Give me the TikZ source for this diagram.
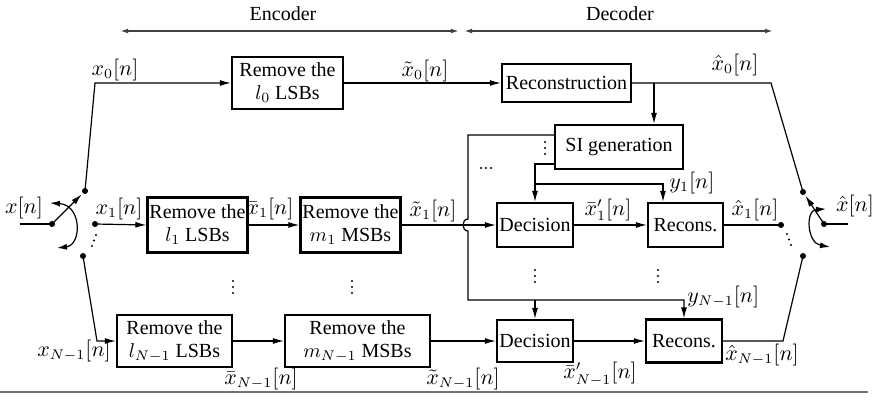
\documentclass[tikz,border=0pt]{standalone}
\usepackage{fontspec}
\setmainfont{Liberation Serif}
\usetikzlibrary{arrows.meta,calc}
\begin{document}
\begin{tikzpicture}[x=0.5pt,y=-0.5pt]
\tikzset{
 blk/.style={draw, line width=1.1pt, align=center, inner sep=1pt, font=\fontsize{10}{11.5}\selectfont},
 conn/.style={line width=0.6pt},
 arr/.style={conn, -{Latex[length=5.5pt,width=3pt]}},
 dbl/.style={conn, {Latex[length=5pt,width=3pt]}-{Latex[length=5pt,width=3pt]}},
 hdr/.style={line width=0.9pt, draw=black!75, {Latex[length=4pt,width=2.4pt]}-{Latex[length=4pt,width=2.4pt]}},
 cdot/.style={circle, fill, inner sep=0pt, minimum size=3pt},
 lbl/.style={font=\fontsize{10.5}{12}\selectfont, inner sep=0pt},
 txt/.style={font=\fontsize{10}{12}\selectfont, inner sep=0pt}
}
\newcommand{\smalldot}[1]{\fill #1 circle[radius=1.1];}
\useasboundingbox (0,0) rectangle (872,401);

% header
\node[txt] (enc) at (283,14) {Encoder};
\node[txt] (dec) at (620,14) {Decoder};
\coordinate (e0) at (120,31); \coordinate (e1) at (459,31);
\coordinate (d0) at (464,31); \coordinate (d1) at (773,31);
\draw[hdr] (e0) -- (e1);
\draw[hdr] (d0) -- (d1);

% blocks
\node[blk, minimum width=55.5pt, minimum height=26pt] (l0) at (287.5,83) {Remove the\\ $l_0$ LSBs};
\node[blk, minimum width=64.5pt, minimum height=19pt] (rec) at (566.5,83) {Reconstruction};
\node[blk, minimum width=64pt, minimum height=22pt] (si) at (619,147) {SI generation};
\node[blk, minimum width=49.5pt, minimum height=27.5pt] (l1) at (197.5,225) {Remove the\\ $l_1$ LSBs};
\node[blk, minimum width=49.5pt, minimum height=27.5pt] (m1) at (350.5,225) {Remove the\\ $m_1$ MSBs};
\node[blk, minimum width=38pt, minimum height=22pt] (dec1) at (535,225) {Decision};
\node[blk, minimum width=37.5pt, minimum height=22pt] (rec1) at (685.5,225) {Recons.};
\node[blk, minimum width=57.5pt, minimum height=26pt] (lN) at (174.5,341) {Remove the\\ $l_{N-1}$ LSBs};
\node[blk, minimum width=72.5pt, minimum height=26pt] (mN) at (357.5,341) {Remove the\\ $m_{N-1}$ MSBs};
\node[blk, minimum width=38pt, minimum height=21pt] (decN) at (535,341) {Decision};
\node[blk, minimum width=38pt, minimum height=21.5pt] (recN) at (684,341) {Recons.};

% switch contacts
\node[cdot] (P) at (52,224) {};
\node[cdot] (T0) at (85,191) {};
\node[cdot] (C1) at (95,224) {};
\node[cdot] (TN) at (83,256) {};
\node[cdot] (Q) at (824,224) {};
\node[cdot] (T0r) at (803,192) {};
\node[cdot] (D1) at (781,225) {};
\node[cdot] (TNr) at (803,256) {};

% left switch
\coordinate (xin) at (20,224);
\draw[conn] (xin) -- (P.center);
\draw[arr] (P.center) -- ($(P)!0.9!(T0)$);
\coordinate (la) at (50,203); \coordinate (lb) at (57,248);
\draw[dbl] (la) .. controls (82,205) and (82,245) .. (lb);
\smalldot{(96,235)} \smalldot{(94,240.5)} \smalldot{(92,246)}

% right switch
\coordinate (xout) at (848,224);
\draw[conn] (Q.center) -- (xout);
\draw[arr] (Q.center) -- ($(Q)!0.88!(T0r)$);
\coordinate (ra) at (826,209); \coordinate (rb) at (830,247);
\draw[dbl] (ra) .. controls (805,210) and (807,243) .. (rb);
\smalldot{(787,234)} \smalldot{(789,239.5)} \smalldot{(791,245)}

% row 0
\coordinate (c0) at (95,83);
\draw[arr] (T0.center) -- (c0) -- (l0.west);
\draw[arr] (l0.east) -- (rec.west);
\coordinate (r0) at (771,83);
\draw[conn] (rec.east) -- (r0) -- (T0r.center);
\coordinate (br0) at (654,83);
\draw[arr] (br0) -- (br0 |- si.north);

% SI generation outputs
\coordinate (v0) at (468,135); \coordinate (v1) at (468,219);
\coordinate (v2) at (468,231); \coordinate (v3) at (468,300);
\coordinate (v4) at (684,300);
\draw[arr] ([yshift=6pt]si.west) -- (v0) -- (v1) .. controls (461.3,219) and (461.3,231) .. (v2) -- (v3) -- (v4) -- (v4 |- recN.north);
\draw[arr] (v3 -| decN.north) -- (decN.north);
\coordinate (w0) at (535,164);
\draw[arr] ([yshift=-8.5pt]si.west) -- (w0) -- (dec1.north);
\coordinate (w1) at (535,184); \coordinate (w2) at (663,184);
\draw[arr] (w1) -- (w2) -- (w2 |- rec1.north);

% row 1
\draw[arr] (C1.center) -- (l1.west);
\draw[arr] (l1.east) -- (m1.west);
\draw[arr] (m1.east) -- (dec1.west);
\draw[arr] (dec1.east) -- (rec1.west);
\draw[conn] (rec1.east) -- (D1.center);

% row N
\coordinate (cN) at (97,341);
\draw[arr] (TN.center) -- (cN) -- (lN.west);
\draw[arr] (lN.east) -- (mN.west);
\draw[arr] (mN.east) -- (decN.west);
\draw[arr] (decN.east) -- (recN.west);
\coordinate (rN) at (783,341);
\draw[conn] (recN.east) -- (rN) -- (TNr.center);

% labels
\node[lbl] (lx) at (24,208) {$x[n]$};
\node[lbl] (lxh) at (855,206) {$\hat{x}[n]$};
\node[lbl] (lx0) at (115,70) {$x_0[n]$};
\node[lbl] (lxt0) at (425,71) {$\tilde{x}_0[n]$};
\node[lbl] (lxh0) at (735,65) {$\hat{x}_0[n]$};
\node[lbl] (lx1) at (119,209) {$x_1[n]$};
\node[lbl] (lxb1) at (270,209) {$\bar{x}_1[n]$};
\node[lbl] (lxt1) at (433,211) {$\tilde{x}_1[n]$};
\node[lbl] (lxp1) at (608,210) {$\bar{x}'_1[n]$};
\node[lbl] (lxh1) at (755,210) {$\hat{x}_1[n]$};
\node[lbl, anchor=west] (ly1) at (669,183) {$y_1[n]$};
\node[lbl, anchor=west] (lyN) at (687,297) {$y_{N-1}[n]$};
\node[lbl] (lxN) at (74,351) {$x_{N-1}[n]$};
\node[lbl] (lxbN) at (261,379) {$\bar{x}_{N-1}[n]$};
\node[lbl] (lxtN) at (463,379) {$\tilde{x}_{N-1}[n]$};
\node[lbl] (lxpN) at (600,374) {$\bar{x}'_{N-1}[n]$};
\node[lbl] (lxhN) at (762,355) {$\hat{x}_{N-1}[n]$};

% dots
\foreach \px/\py in {233/287, 352/287, 535/276, 658/276, 545/148}{
  \smalldot{(\px,\py-6)} \smalldot{(\px,\py)} \smalldot{(\px,\py+6)}
}
\smalldot{(481,168)} \smalldot{(486,168)} \smalldot{(491,168)}

% bottom rule
\coordinate (b0) at (0,392); \coordinate (b1) at (868,392);
\draw[line width=1.4pt, draw=black!55] (b0) -- (b1);
\end{tikzpicture}
\end{document}
